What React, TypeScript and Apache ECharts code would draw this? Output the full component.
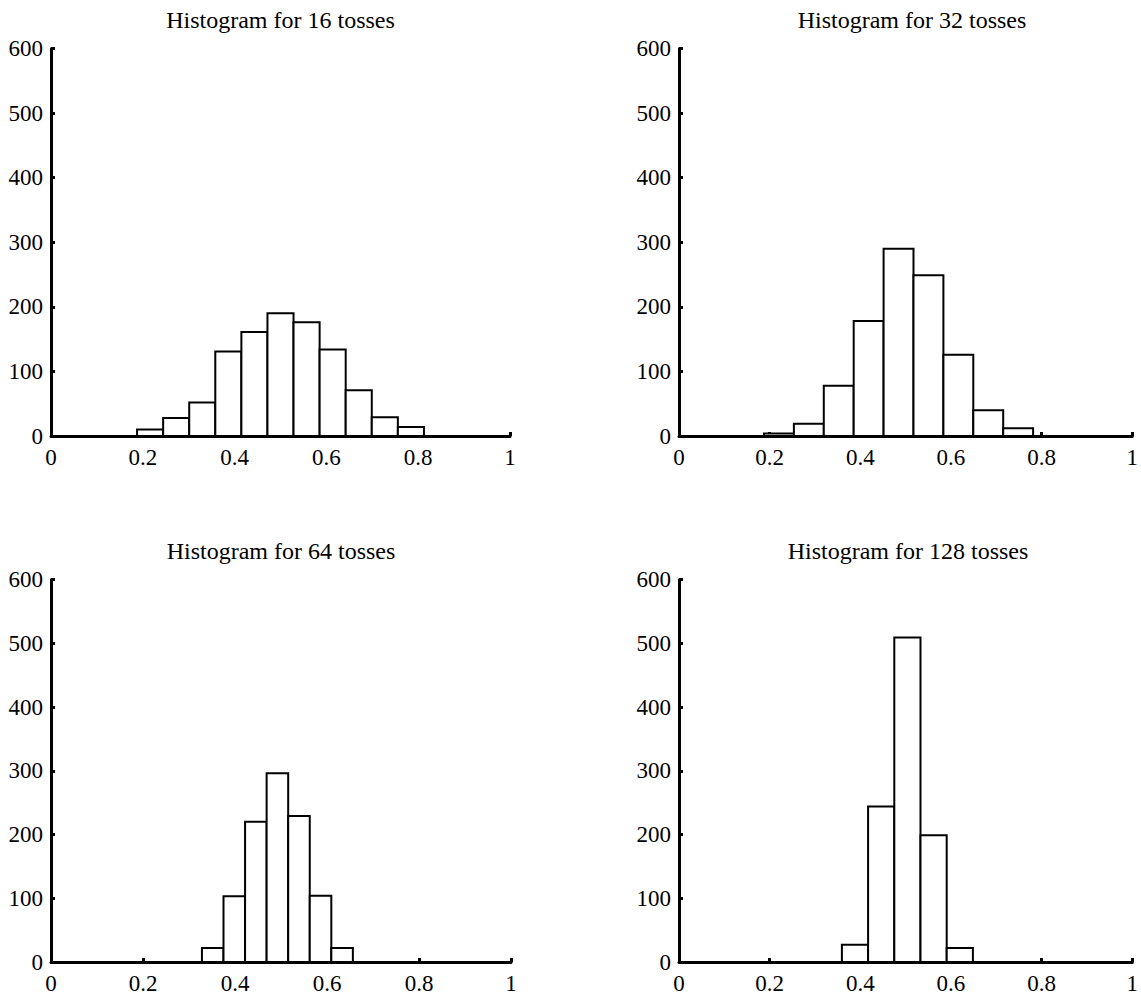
import React, { useEffect, useRef } from "react";
import * as echarts from "echarts";

// Titles of the four panels
const titles = [
  "Histogram for 16 tosses",
  "Histogram for 32 tosses",
  "Histogram for 64 tosses",
  "Histogram for 128 tosses",
];

// Bin range [first edge, last edge] for each panel (equal-width bins)
const range16 = [0.1875, 0.8125];
const range32 = [0.1875, 0.78125];
const range64 = [0.328125, 0.65625];
const range128 = [0.359375, 0.6484375];

// Counts per bin (1000 trials)
const counts16 = [10, 28, 52, 131, 161, 190, 176, 134, 71, 29, 14];
const counts32 = [4, 19, 78, 178, 290, 249, 126, 40, 12];
const counts64 = [22, 103, 220, 296, 229, 104, 22];
const counts128 = [27, 244, 509, 199, 22];

// Axis ticks
const xTicks = [0, 0.2, 0.4, 0.6, 0.8, 1];
const yTicks = [0, 100, 200, 300, 400, 500, 600];

const panels = [
  { range: range16, counts: counts16 },
  { range: range32, counts: counts32 },
  { range: range64, counts: counts64 },
  { range: range128, counts: counts128 },
];

// grid boxes in pixels
const grids = [
  { left: 51, top: 48.5, width: 459, height: 387.5 },
  { left: 679, top: 48.5, width: 458, height: 387.5 },
  { left: 51, top: 579.5, width: 460, height: 382.5 },
  { left: 679, top: 579.5, width: 458, height: 382.5 },
];

const FONT = "'Liberation Serif', 'Times New Roman', serif";

export default function App() {
  const ref = useRef<HTMLDivElement>(null);
  useEffect(() => {
    if (!ref.current) return;
    const chart = echarts.init(ref.current, undefined, { renderer: "svg" });

    const xAxis = grids.map((_, i) => ({
      type: "value",
      gridIndex: i,
      min: xTicks[0],
      max: xTicks[xTicks.length - 1],
      interval: 0.2,
      splitLine: { show: false },
      axisLine: { show: true, onZero: false, lineStyle: { color: "#000", width: 3 } },
      axisTick: { show: true, inside: true, length: 4, lineStyle: { color: "#000", width: 3 } },
      axisLabel: {
        color: "#000",
        fontFamily: FONT,
        fontSize: 23,
        margin: 10,
        formatter: (v: number) => String(+v.toFixed(1)),
      },
    }));

    const yAxis = grids.map((_, i) => ({
      type: "value",
      gridIndex: i,
      min: yTicks[0],
      max: yTicks[yTicks.length - 1],
      interval: 100,
      splitLine: { show: false },
      axisLine: { show: true, onZero: false, lineStyle: { color: "#000", width: 3 } },
      axisTick: { show: true, inside: true, length: 4, lineStyle: { color: "#000", width: 3 } },
      axisLabel: { color: "#000", fontFamily: FONT, fontSize: 23, margin: 8 },
    }));

    const series = panels.map((p, i) => {
      const n = p.counts.length;
      const w = (p.range[1] - p.range[0]) / n;
      const data = p.counts.map((c, k) => [p.range[0] + k * w, p.range[0] + (k + 1) * w, c]);
      return {
        type: "custom",
        xAxisIndex: i,
        yAxisIndex: i,
        data,
        encode: { x: [0, 1], y: 2 },
        renderItem: (params: any, api: any) => {
          const a = api.coord([api.value(0), api.value(2)]);
          const b = api.coord([api.value(1), 0]);
          return {
            type: "rect",
            shape: { x: a[0], y: a[1], width: b[0] - a[0], height: b[1] - a[1] },
            style: { fill: "#fff", stroke: "#000", lineWidth: 2 },
          };
        },
        z: 1,
      };
    });

    const graphic = titles.map((t, i) => ({
      type: "text",
      x: grids[i].left + grids[i].width / 2 + (i === 1 ? 4 : 0),
      y: grids[i].top - 28.5,
      style: {
        text: t,
        fill: "#000",
        font: `24px ${FONT}`,
        align: "center",
        verticalAlign: "middle",
      },
    }));

    chart.setOption({
      animation: false,
      backgroundColor: "#fff",
      grid: grids.map((g) => ({ ...g, containLabel: false })),
      xAxis,
      yAxis,
      series,
      graphic,
    });
    return () => chart.dispose();
  }, []);

  return (
    <div
      ref={ref}
      style={{ position: "absolute", left: 0, top: 0, width: 1141, height: 998 }}
    />
  );
}
